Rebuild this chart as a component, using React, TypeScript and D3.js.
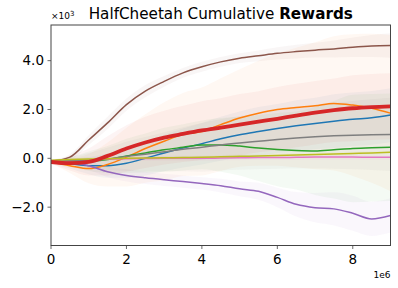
import React from 'react';
import * as d3 from 'd3';

// training steps (x1e6)
const steps = [0, 0.5, 1, 1.5, 2, 2.5, 3, 3.5, 4, 4.5, 5, 5.5, 6, 6.5, 7, 7.5, 8, 8.5, 9];

// mean cumulative reward (x1e3)
const blueMean = [-0.15, -0.22, -0.3, -0.3, -0.2, 0.0, 0.22, 0.42, 0.6, 0.8, 0.97, 1.1, 1.22, 1.33, 1.43, 1.52, 1.6, 1.66, 1.77];
const orangeMean = [-0.15, -0.3, -0.42, -0.25, 0.05, 0.4, 0.7, 0.98, 1.1, 1.38, 1.65, 1.85, 2.0, 2.08, 2.15, 2.25, 2.18, 2.05, 1.85];
const greenMean = [-0.15, -0.15, -0.12, -0.05, 0.1, 0.22, 0.35, 0.45, 0.55, 0.55, 0.5, 0.42, 0.36, 0.32, 0.3, 0.35, 0.4, 0.43, 0.45];
const redMean = [-0.15, -0.2, -0.15, 0.1, 0.4, 0.65, 0.85, 1.0, 1.14, 1.26, 1.38, 1.5, 1.62, 1.75, 1.87, 1.97, 2.05, 2.1, 2.13];
const purpleMean = [-0.1, -0.15, -0.3, -0.55, -0.7, -0.8, -0.88, -0.95, -1.03, -1.12, -1.25, -1.35, -1.6, -1.88, -2.02, -2.07, -2.25, -2.48, -2.34];
const brownMean = [-0.12, 0.05, 0.75, 1.45, 2.2, 2.75, 3.15, 3.5, 3.75, 3.95, 4.1, 4.2, 4.3, 4.37, 4.43, 4.48, 4.55, 4.6, 4.62];
const pinkMean = [-0.12, -0.1, -0.07, -0.04, -0.02, -0.01, 0.0, 0.0, 0.0, 0.01, 0.02, 0.03, 0.03, 0.04, 0.05, 0.05, 0.05, 0.04, 0.04];
const grayMean = [-0.1, -0.1, -0.08, -0.02, 0.08, 0.17, 0.27, 0.37, 0.45, 0.55, 0.63, 0.7, 0.77, 0.83, 0.88, 0.92, 0.95, 0.97, 0.98];
const oliveMean = [-0.08, -0.05, -0.03, -0.02, 0.0, 0.01, 0.02, 0.03, 0.04, 0.06, 0.08, 0.1, 0.12, 0.14, 0.16, 0.18, 0.2, 0.22, 0.25];

// standard deviation bands (x1e3)
const blueStd = [0.05, 0.2, 0.35, 0.5, 0.6, 0.7, 0.75, 0.8, 0.85, 0.9, 0.95, 1.0, 1.0, 1.05, 1.05, 1.1, 1.1, 1.1, 1.1];
const orangeStd = [0.05, 0.3, 0.6, 0.9, 1.2, 1.4, 1.6, 1.7, 1.8, 1.9, 2.0, 2.15, 2.3, 2.45, 2.6, 2.75, 2.9, 3.05, 3.2];
const greenStd = [0.05, 0.2, 0.4, 0.55, 0.7, 0.8, 0.9, 0.95, 1.0, 1.1, 1.2, 1.35, 1.5, 1.6, 1.8, 2.0, 2.2, 2.2, 2.2];
const redStd = [0.05, 0.3, 0.55, 0.8, 0.95, 1.05, 1.1, 1.15, 1.2, 1.2, 1.25, 1.25, 1.3, 1.3, 1.3, 1.3, 1.35, 1.35, 1.35];
const purpleStd = [0.05, 0.1, 0.18, 0.22, 0.25, 0.25, 0.25, 0.25, 0.25, 0.28, 0.3, 0.35, 0.4, 0.5, 0.6, 0.68, 0.72, 0.7, 0.7];
const brownStd = [0.05, 0.12, 0.2, 0.25, 0.25, 0.25, 0.22, 0.2, 0.2, 0.2, 0.2, 0.22, 0.25, 0.28, 0.3, 0.35, 0.4, 0.45, 0.5];
const pinkStd = [0.05, 0.06, 0.08, 0.1, 0.1, 0.1, 0.1, 0.1, 0.1, 0.1, 0.1, 0.1, 0.1, 0.1, 0.1, 0.1, 0.1, 0.1, 0.1];
const grayStd = [0.05, 0.15, 0.3, 0.45, 0.6, 0.7, 0.8, 0.9, 1.0, 1.05, 1.1, 1.15, 1.2, 1.25, 1.3, 1.35, 1.4, 1.45, 1.5];
const oliveStd = [0.05, 0.05, 0.06, 0.06, 0.07, 0.07, 0.08, 0.08, 0.08, 0.08, 0.08, 0.08, 0.08, 0.08, 0.08, 0.08, 0.08, 0.08, 0.08];

const series = [
  { color: '#1f77b4', mean: blueMean, std: blueStd, width: 1.5 },
  { color: '#ff7f0e', mean: orangeMean, std: orangeStd, width: 1.5 },
  { color: '#2ca02c', mean: greenMean, std: greenStd, width: 1.5 },
  { color: '#9467bd', mean: purpleMean, std: purpleStd, width: 1.5 },
  { color: '#8c564b', mean: brownMean, std: brownStd, width: 1.5 },
  { color: '#e377c2', mean: pinkMean, std: pinkStd, width: 1.5 },
  { color: '#7f7f7f', mean: grayMean, std: grayStd, width: 1.5 },
  { color: '#bcbd22', mean: oliveMean, std: oliveStd, width: 1.5 },
  { color: '#d62728', mean: redMean, std: redStd, width: 3.8 },
];

const xTicks = [0, 2, 4, 6, 8];
const yTicks = [-2, 0, 2, 4];

const W = 398;
const H = 288;
const margin = { top: 25, right: 7.5, bottom: 42.5, left: 51 };
const font = 'DejaVu Sans, sans-serif';

export default function App() {
  const iw = W - margin.left - margin.right;
  const ih = H - margin.top - margin.bottom;

  const x = d3.scaleLinear().domain([0, 9]).range([0, iw]);
  const y = d3.scaleLinear().domain([-3.57, 5.46]).range([ih, 0]);

  const line = d3.line<number>()
    .x((_, i) => x(steps[i]))
    .y((d) => y(d))
    .curve(d3.curveMonotoneX);

  const area = (mean: number[], std: number[]) =>
    d3.area<number>()
      .x((_, i) => x(steps[i]))
      .y0((d, i) => y(d - std[i]))
      .y1((d, i) => y(d + std[i]))
      .curve(d3.curveMonotoneX)(mean) || '';

  return (
    <svg width={W} height={H} style={{ position: 'absolute', left: 0, top: 0 }}>
      <rect width={W} height={H} fill="#fff" />
      <defs>
        <clipPath id="plot">
          <rect width={iw} height={ih} />
        </clipPath>
      </defs>
      <text x={margin.left + iw / 2} y={19} textAnchor="middle" fontFamily={font} fontSize={15.2}>
        HalfCheetah Cumulative <tspan fontWeight="bold">Rewards</tspan>
      </text>
      <g transform={`translate(${margin.left},${margin.top})`}>
        <g clipPath="url(#plot)">
          {series.map((s, i) => (
            <path key={'a' + i} d={area(s.mean, s.std)} fill={s.color} fillOpacity={0.05} stroke="none" />
          ))}
          {series.map((s, i) => (
            <path key={'l' + i} d={line(s.mean) || ''} fill="none" stroke={s.color} strokeWidth={s.width} />
          ))}
        </g>
        <rect x={0} y={0} width={iw} height={ih} fill="none" stroke="#444" strokeWidth={1} />
        {xTicks.map((t) => (
          <g key={'x' + t} transform={`translate(${x(t)},${ih})`}>
            <line y2={3.5} stroke="#444" strokeWidth={0.8} />
            <text y={18.5} textAnchor="middle" fontFamily={font} fontSize={13.5}>{t}</text>
          </g>
        ))}
        {yTicks.map((t) => (
          <g key={'y' + t} transform={`translate(0,${y(t)})`}>
            <line x2={-3.5} stroke="#444" strokeWidth={0.8} />
            <text x={-7} dy="0.35em" textAnchor="end" fontFamily={font} fontSize={13.5}>
              {d3.format('.1f')(t).replace('-', '\u2212')}
            </text>
          </g>
        ))}
        <text x={0} y={-6} fontFamily={font} fontSize={9}>
          ×10<tspan dy={-3} fontSize={7}>3</tspan>
        </text>
        <text x={iw} y={ih + 32} textAnchor="end" fontFamily={font} fontSize={9}>1e6</text>
      </g>
    </svg>
  );
}
